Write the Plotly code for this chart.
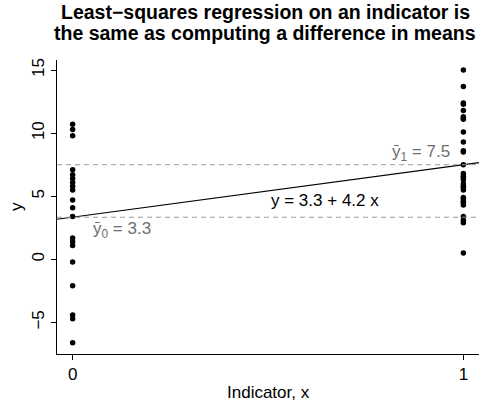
import numpy as np
import plotly.graph_objects as go

# Outcomes for the two groups (indicator x = 0 and x = 1)
y_control = [10.7, 10.3, 9.8, 7.1, 6.7, 6.4, 6.1, 5.8, 5.5, 4.7, 4.1, 3.4,
             1.7, 1.4, 1.1, -0.2, -2.1, -4.4, -4.7, -6.6]
y_treated = [15.0, 13.7, 12.4, 12.3, 11.8, 11.3, 11.2, 11.1, 10.1, 9.3,
             8.6, 8.5, 7.5, 6.8, 6.6, 6.5, 6.3, 6.0, 5.8, 5.7,
             5.5, 4.9, 4.8, 4.6, 4.5, 4.3, 3.4, 3.1, 2.9, 0.5]
x_ticks = [0, 1]
y_ticks = [-5, 0, 5, 10, 15]
title_lines = ["Least−squares regression on an indicator is",
               "the same as computing a difference in means"]

x = np.array([0] * len(y_control) + [1] * len(y_treated), dtype=float)
y = np.array(y_control + y_treated, dtype=float)

# least-squares fit on the indicator
slope, intercept = np.polyfit(x, y, 1)
mean0 = np.mean(y_control)
mean1 = np.mean(y_treated)

x_range = [-0.04, 1.04]
y_range = [-7.5, 15.8]

FONT = "Liberation Sans, Arial, Helvetica, sans-serif"
GRAY = "#6e6e6e"
FS = 17

fig = go.Figure()

fig.add_trace(go.Scatter(
    x=x, y=y, mode="markers",
    marker=dict(color="black", size=5.5, line=dict(width=0)),
    hoverinfo="skip", showlegend=False,
))

# fitted line across the whole plotting region
fig.add_trace(go.Scatter(
    x=x_range, y=[intercept + slope * v for v in x_range], mode="lines",
    line=dict(color="black", width=1.1),
    hoverinfo="skip", showlegend=False,
))

# group means as dashed reference lines
for m in (mean0, mean1):
    fig.add_shape(type="line", xref="paper", x0=0, x1=1, yref="y", y0=m, y1=m,
                  line=dict(color="#9a9a9a", width=1, dash="5px,4px"))

fig.add_annotation(x=0.971, y=8.45, xanchor="right", yanchor="middle",
                   text=f"ȳ<sub>1</sub> = {mean1:.1f}", showarrow=False,
                   font=dict(family=FONT, size=FS, color=GRAY))
fig.add_annotation(x=0.645, y=4.68, xanchor="center", yanchor="middle",
                   text=f"y = {intercept:.1f} + {slope:.1f} x", showarrow=False,
                   font=dict(family=FONT, size=FS, color="black"))
fig.add_annotation(x=0.048, y=2.35, xanchor="left", yanchor="middle",
                   text=f"ȳ<sub>0</sub> = {mean0:.1f}", showarrow=False,
                   font=dict(family=FONT, size=FS, color=GRAY))

# two-line bold title
for line, shift in zip(title_lines, (48, 27)):
    fig.add_annotation(xref="paper", yref="paper", x=0.493, y=1, yshift=shift,
                       xanchor="center", yanchor="middle", text=f"<b>{line}</b>",
                       showarrow=False,
                       font=dict(family=FONT, size=19.5, color="black"))

# axis titles
fig.add_annotation(xref="paper", yref="paper", x=0.5, y=0, yshift=-38,
                   xanchor="center", yanchor="middle", text="Indicator, x",
                   showarrow=False, font=dict(family=FONT, size=FS, color="black"))
fig.add_annotation(xref="paper", yref="paper", x=0, y=0.5, xshift=-41,
                   xanchor="center", yanchor="middle", text="y", textangle=-90,
                   showarrow=False, font=dict(family=FONT, size=FS, color="black"))

fig.update_layout(
    width=489, height=406,
    margin=dict(l=57, r=10, t=60, b=52),
    paper_bgcolor="white", plot_bgcolor="white",
    font=dict(family=FONT, size=FS, color="black"),
    xaxis=dict(range=x_range, tickvals=x_ticks, ticktext=[str(v) for v in x_ticks],
               showgrid=False, zeroline=False, showline=True, linecolor="black",
               linewidth=1, ticks="outside", ticklen=5, tickcolor="black",
               tickfont=dict(size=FS)),
    yaxis=dict(range=y_range, tickvals=y_ticks,
               ticktext=[str(v).replace("-", "−") for v in y_ticks],
               tickangle=-90, showgrid=False, zeroline=False, showline=True,
               linecolor="black", linewidth=1, ticks="outside", ticklen=5,
               tickcolor="black", tickfont=dict(size=FS)),
)

fig.write_html("out.html")
